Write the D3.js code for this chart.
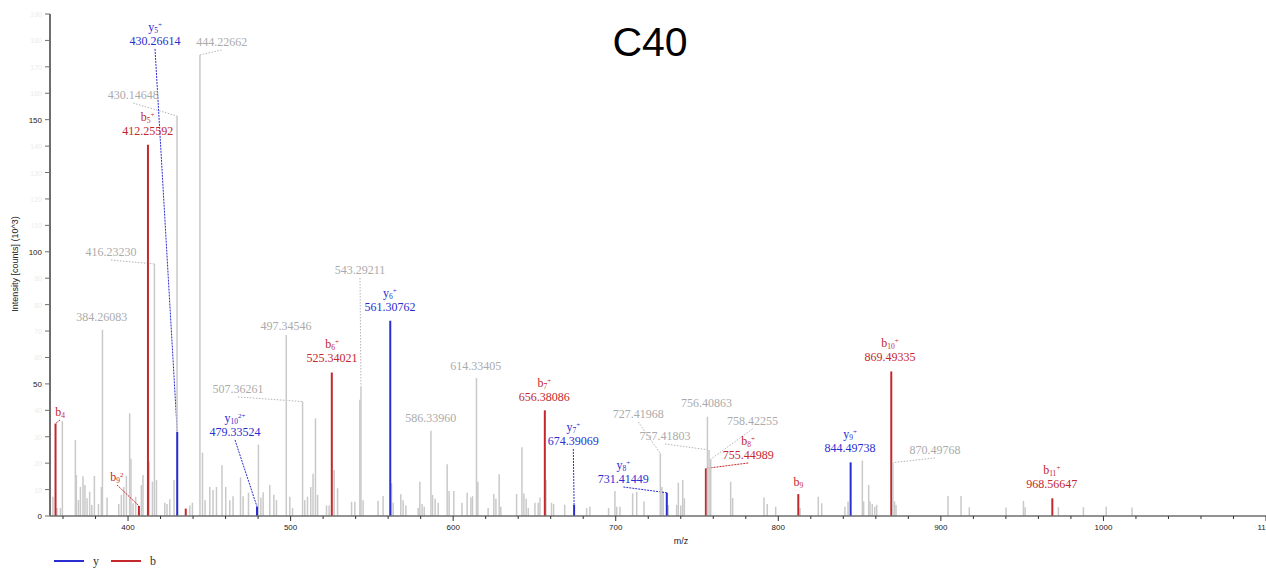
<!DOCTYPE html>
<html>
<head>
<meta charset="utf-8">
<script src="https://cdn.jsdelivr.net/npm/d3@7"></script>
<style>
  body { margin: 0; background: #fff; }
  svg { display: block; }
</style>
</head>
<body>
<div id="chart"></div>
<script>
// unassigned (grey) peaks: m/z and intensity (10^3 counts)
var greyMz = [353.8, 356.3, 358.4, 359.6, 367.6, 368.2, 369.5, 370.7, 372.3, 373.5, 374.8, 376.4, 377.7,
  379.3, 381.8, 383.6, 387.1, 394.3, 395.9, 397.4, 399.0, 401.0, 401.8, 403.1, 404.7, 408.2, 409.2,
  412.9, 415.0, 417.5, 422.6, 424.0, 425.7, 428.3, 438.0, 439.6, 445.8, 447.4, 450.3, 452.3, 454.4,
  457.8, 460.1, 462.6, 464.6, 469.2, 470.8, 474.1, 480.2, 481.7, 483.1, 487.2, 489.7, 491.3, 499.5,
  501.2, 508.7, 510.4, 512.4, 513.8, 515.3, 516.6, 522.1, 523.7, 526.8, 528.9, 537.5, 539.5, 542.6,
  544.6, 553.8, 556.9, 562.1, 563.1, 567.8, 569.2, 570.9, 578.5, 579.5, 580.9, 582.2, 587.3, 588.9,
  590.8, 596.3, 597.5, 600.4, 605.4, 608.6, 610.9, 611.9, 615.2, 621.5, 625.0, 626.3, 628.3, 629.3,
  639.0, 642.3, 643.5, 644.9, 646.2, 650.3, 652.3, 653.4, 657.1, 660.5, 661.8, 668.6, 682.1, 684.1,
  695.6, 699.5, 700.6, 702.6, 710.4, 712.9, 717.4, 728.4, 729.2, 732.3, 737.5, 738.5, 740.0, 741.2,
  742.2, 770.7, 771.9, 791.2, 793.2, 798.4, 813.4, 824.6, 826.7, 841.0, 842.9, 851.7, 852.5, 855.6,
  856.4, 857.8, 859.3, 860.5, 871.5, 872.4, 904.4, 912.4, 917.5, 940.1, 950.8, 951.8, 972.3, 987.7,
  1001.7, 1017.6];
var greyInt = [7.3, 3, 3, 36, 28.8, 15.5, 6, 11, 15, 11.7, 6.7, 9.2, 4.2,
  15.2, 4.5, 11, 7, 4.5, 8, 11, 15.2, 38.9, 21.7, 4.8, 7.3, 11.7, 15.5,
  20.6, 13, 13.6, 5, 4.5, 6.3, 13.6, 4, 5, 24, 6, 11, 9.8, 11,
  19.2, 11, 6, 7.5, 14.6, 7.5, 8.8, 27, 7, 9, 11.7, 8, 6, 7.3,
  3, 6, 7.3, 11, 16, 37, 8, 4, 4, 17.4, 10.5, 5.4, 5.4, 44,
  6, 5.8, 7.6, 12.4, 5, 8.2, 6, 4, 3, 13, 4.5, 3.5, 8, 6.5,
  5, 19.6, 9.5, 9.5, 5, 8.8, 7, 7.5, 13, 3, 8.3, 6.5, 15.8, 3.5,
  8.3, 26, 8.5, 6.5, 3, 5, 5, 7, 13.6, 5, 4.5, 4.3, 3, 3.5,
  3, 9.5, 3.5, 3.5, 8.6, 9.2, 5.5, 11, 9.2, 4.2, 4.2, 12.6, 4, 13.6,
  6.7, 13, 6.8, 7, 4.5, 3.5, 3, 7.3, 4.8, 3.5, 5.5, 21, 5.5, 11.7,
  5.5, 4.5, 3.5, 4.2, 5.5, 4.2, 7.6, 7.6, 3.3, 3.2, 5.7, 3.3, 3.3, 3.3,
  3.5, 3.2];

// unlabelled b-type peak
var extraB = [{ mz: 435.5, inten: 2.8 }];

// annotated peaks
var annoMz   = [355.4, 384.26083, 406.7, 412.25592, 416.23230, 430.14648, 430.26614, 444.22662, 479.33524,
  497.34546, 507.36261, 525.34021, 543.29211, 561.30762, 586.33960, 614.33405, 656.38086, 674.39069,
  727.41968, 731.41449, 755.44989, 756.40863, 757.41803, 758.42255, 812.3, 844.49738, 869.49335,
  870.49768, 968.56647];
var annoInt  = [35, 70.5, 3.8, 140.5, 95.4, 151.4, 31.8, 174.5, 3.5,
  68.5, 43.3, 54.3, 49, 73.9, 32.3, 52.2, 40, 4.2,
  23.7, 8.8, 18, 37.6, 25, 21.5, 8.3, 20.3, 54.7,
  20.2, 6.7];
var annoType = ['b', 'g', 'b', 'b', 'g', 'g', 'y', 'g', 'y',
  'g', 'g', 'b', 'g', 'y', 'g', 'g', 'b', 'y',
  'g', 'y', 'b', 'g', 'g', 'g', 'b', 'y', 'b',
  'g', 'b'];
var annoSub  = ['4', '', '9', '5', '', '', '5', '', '10',
  '', '', '6', '', '6', '', '', '7', '7',
  '', '8', '8', '', '', '', '9', '9', '10',
  '', '11'];
var annoSup  = ['', '', '2', '+', '', '', '+', '', '2+',
  '', '', '+', '', '+', '', '', '+', '+',
  '', '+', '+', '', '', '', '', '+', '+',
  '', '+'];
var annoText = ['', '384.26083', '', '412.25592', '416.23230', '430.14648', '430.26614', '444.22662', '479.33524',
  '497.34546', '507.36261', '525.34021', '543.29211', '561.30762', '586.33960', '614.33405', '656.38086', '674.39069',
  '727.41968', '731.41449', '755.44989', '756.40863', '757.41803', '758.42255', '', '844.49738', '869.49335',
  '870.49768', '968.56647'];
// where each label sits, in data units (m/z, intensity)
var labelMz  = [358.2, 383.8, 393.2, 412.1, 389.5, 403.2, 416.6, 457.6, 465.8,
  497.2, 467.6, 525.5, 542.7, 561.1, 586.2, 613.9, 656.1, 673.9,
  713.9, 704.7, 781.5, 755.9, 730.3, 784.2, 812.3, 844.1, 868.7,
  896.4, 968.2];
var labelInt = [39.4, 75.3, 14.8, 145.7, 99.9, 159.3, 179.8, 179.4, 31.8,
  71.9, 48.1, 59.8, 93.1, 79.1, 37.1, 56.8, 45, 28.4,
  38.6, 14, 23.1, 42.8, 30.3, 36, 12.9, 25.7, 60.2,
  25, 12.1];

var xTicks = [400, 500, 600, 700, 800, 900, 1000, 1100];
var yTicks = [0, 50, 100, 150];

var width = 1266, height = 569;
var colors = { y: '#2a2ed0', b: '#c4282c', g: '#c9c9c9' };
var textColors = { y: '#2a2ed0', b: '#c4282c', g: '#ababab' };

var svg = d3.select('#chart').append('svg')
  .attr('width', width)
  .attr('height', height);

var x = d3.scaleLinear().domain([352, 1100]).range([50, 1266]);
var y = d3.scaleLinear().domain([0, 190]).range([516, 14]);

// title
svg.append('text')
  .attr('x', 650).attr('y', 56)
  .attr('text-anchor', 'middle')
  .style('font-family', 'Liberation Sans, Arial, sans-serif')
  .style('font-size', '41px')
  .text('C40');

// grey peaks
var greyData = greyMz.map(function(m, i) { return { mz: m, inten: greyInt[i] }; });
svg.append('g').selectAll('line').data(greyData).enter()
  .append('line')
  .attr('x1', function(d) { return x(d.mz); })
  .attr('x2', function(d) { return x(d.mz); })
  .attr('y1', y(0))
  .attr('y2', function(d) { return y(d.inten); })
  .attr('stroke', colors.g)
  .attr('stroke-width', 1.5);

var anno = annoMz.map(function(m, i) {
  return { mz: m, inten: annoInt[i], type: annoType[i], sub: annoSub[i], sup: annoSup[i],
    text: annoText[i], lmz: labelMz[i], lint: labelInt[i] };
});

// leaders from label to peak top
var leaders = anno.filter(function(d) {
  var dx = Math.abs(x(d.lmz) - x(d.mz));
  var dy = y(d.inten) - y(d.lint);
  return dx > 3 || dy > 18;
});
svg.append('g').selectAll('line').data(leaders).enter()
  .append('line')
  .attr('x1', function(d) { return x(d.lmz); })
  .attr('y1', function(d) { return y(d.lint) + 8; })
  .attr('x2', function(d) { return x(d.mz); })
  .attr('y2', function(d) { return y(d.inten); })
  .attr('stroke', function(d) { return d.type == 'g' ? '#b5b5b5' : colors[d.type]; })
  .attr('stroke-width', 1)
  .attr('stroke-dasharray', function(d) { return d.type == 'g' ? '1.5,1.5' : '2,1'; });

// annotated peaks
svg.append('g').selectAll('line').data(anno.concat(extraB.map(function(d) {
    return { mz: d.mz, inten: d.inten, type: 'b' };
  }))).enter()
  .append('line')
  .attr('x1', function(d) { return x(d.mz); })
  .attr('x2', function(d) { return x(d.mz); })
  .attr('y1', y(0))
  .attr('y2', function(d) { return y(d.inten); })
  .attr('stroke', function(d) { return colors[d.type]; })
  .attr('stroke-width', function(d) { return d.type == 'g' ? 1.5 : 2; });

// labels
var labels = svg.append('g')
  .style('font-family', 'Liberation Serif, Times New Roman, serif')
  .style('font-size', '12px');

anno.forEach(function(d) {
  var lx = x(d.lmz), ly = y(d.lint);
  var c = textColors[d.type];
  if (d.text) {
    labels.append('text')
      .attr('x', lx).attr('y', ly + 4)
      .attr('text-anchor', 'middle')
      .attr('fill', c)
      .text(d.text);
  }
  if (d.type != 'g') {
    var ny = d.text ? ly - 10 : ly + 4;
    var t = labels.append('text')
      .attr('x', lx).attr('y', ny)
      .attr('text-anchor', 'middle')
      .attr('fill', c);
    t.append('tspan').text(d.type);
    t.append('tspan').attr('dy', 2).style('font-size', '7.5px').text(d.sub);
    if (d.sup) t.append('tspan').attr('dy', -6).style('font-size', '7px').text(d.sup);
  }
});

// axes
var axisColor = '#6e6e6e';
var xAxis = svg.append('g').attr('transform', 'translate(0,' + y(0) + ')');
xAxis.append('line').attr('x1', 50).attr('x2', 1266).attr('stroke', axisColor).attr('stroke-width', 1.5);
xAxis.selectAll('.minor').data(d3.range(360, 1101, 20)).enter()
  .append('line')
  .attr('x1', function(d) { return x(d); }).attr('x2', function(d) { return x(d); })
  .attr('y1', 0).attr('y2', function(d) { return d % 100 == 0 ? 5 : 3; })
  .attr('stroke', '#333').attr('stroke-width', 1);
xAxis.selectAll('.lab').data(xTicks).enter()
  .append('text')
  .attr('x', function(d) { return x(d); }).attr('y', 14)
  .attr('text-anchor', 'middle')
  .style('font-family', 'Liberation Sans, Arial, sans-serif')
  .style('font-size', '8px')
  .attr('fill', '#222')
  .text(function(d) { return d; });

var yAxis = svg.append('g').attr('transform', 'translate(50,0)');
yAxis.append('line').attr('y1', y(190)).attr('y2', y(0)).attr('stroke', axisColor).attr('stroke-width', 2);
yAxis.selectAll('.minor').data(d3.range(0, 191, 10)).enter()
  .append('line')
  .attr('x1', -5).attr('x2', 0)
  .attr('y1', function(d) { return y(d); }).attr('y2', function(d) { return y(d); })
  .attr('stroke', axisColor).attr('stroke-width', 1);
yAxis.selectAll('.faint').data(d3.range(10, 191, 10).filter(function(d) { return d % 50 != 0; })).enter()
  .append('text')
  .attr('x', -8).attr('y', function(d) { return y(d) + 3; })
  .attr('text-anchor', 'end')
  .style('font-family', 'Liberation Sans, Arial, sans-serif')
  .style('font-size', '7px')
  .attr('fill', '#ececec')
  .text(function(d) { return d; });
yAxis.selectAll('.lab').data(yTicks).enter()
  .append('text')
  .attr('x', -8).attr('y', function(d) { return y(d) + 3; })
  .attr('text-anchor', 'end')
  .style('font-family', 'Liberation Sans, Arial, sans-serif')
  .style('font-size', '8px')
  .attr('fill', '#222')
  .text(function(d) { return d; });

// axis titles
svg.append('text')
  .attr('x', 681).attr('y', 544)
  .attr('text-anchor', 'middle')
  .style('font-family', 'Liberation Sans, Arial, sans-serif')
  .style('font-size', '9px')
  .attr('fill', '#222')
  .text('m/z');
svg.append('text')
  .attr('transform', 'translate(18,264) rotate(-90)')
  .attr('text-anchor', 'middle')
  .style('font-family', 'Liberation Sans, Arial, sans-serif')
  .style('font-size', '9px')
  .attr('fill', '#222')
  .text('Intensity [counts] (10^3)');

// legend
var legend = svg.append('g').attr('transform', 'translate(54,561)');
[['y', 0], ['b', 57]].forEach(function(item) {
  var g = legend.append('g').attr('transform', 'translate(' + item[1] + ',0)');
  g.append('line').attr('x1', 0).attr('x2', 30).attr('stroke', colors[item[0]]).attr('stroke-width', 2);
  g.append('text').attr('x', 42).attr('y', 4)
    .attr('text-anchor', 'middle')
    .style('font-family', 'Liberation Serif, Times New Roman, serif')
    .style('font-size', '12px')
    .attr('fill', '#333')
    .text(item[0]);
});
</script>
</body>
</html>
